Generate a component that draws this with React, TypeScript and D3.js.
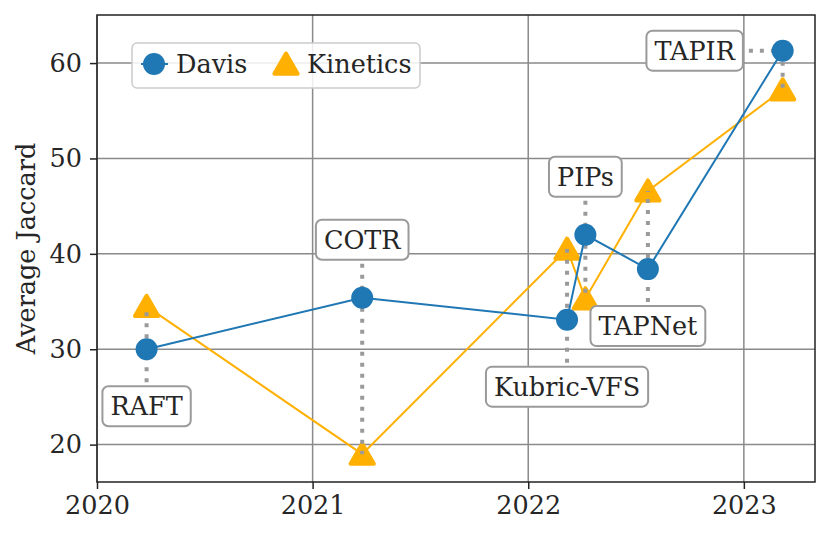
import { useEffect, useRef } from "react"
import * as d3 from "d3"

// Methods, release dates (fractional year) and Average Jaccard on each dataset
const methods = ["RAFT", "COTR", "Kubric-VFS", "PIPs", "TAPNet", "TAPIR"]
const years = [2020.23, 2021.23, 2022.18, 2022.265, 2022.555, 2023.18]
const davis = [30.0, 35.4, 33.1, 42.0, 38.4, 61.3]
const kinetics = [34.5, 19.0, 40.5, 35.3, 46.6, 57.2]

const xTicks = [2020, 2021, 2022, 2023]
const yTicks = [20, 30, 40, 50, 60]

// where each label sits relative to its Davis point (px)
const labelOffset = [
  [0, 57],
  [0, -58],
  [0, 67],
  [0, -58],
  [0, 57],
  [-88, 0],
]

const BLUE = "#1f77b4"
const ORANGE = "#ffb000"
const FONT = "DejaVu Serif"
const FS = "25.5px"
const TEXT = "#262626"

export default function App() {
  const svgRef = useRef<SVGSVGElement>(null)
  const width = 831
  const height = 538

  useEffect(() => {
    if (!svgRef.current) return
    const svg = d3.select(svgRef.current)
    svg.selectAll("*").remove()

    const left = 97
    const right = 815
    const top = 15
    const bottom = 482

    const x = d3.scaleLinear().domain([2020, 2023.33]).range([left, right])
    const y = d3.scaleLinear().domain([16.08, 65.04]).range([bottom, top])

    const g = svg.append("g")

    // grid
    g.selectAll(".vgrid")
      .data(xTicks)
      .enter()
      .append("line")
      .attr("x1", (d) => x(d))
      .attr("x2", (d) => x(d))
      .attr("y1", top)
      .attr("y2", bottom)
      .attr("stroke", "#8a8a8a")
      .attr("stroke-width", 1.5)
    g.selectAll(".hgrid")
      .data(yTicks)
      .enter()
      .append("line")
      .attr("x1", left)
      .attr("x2", right)
      .attr("y1", (d) => y(d))
      .attr("y2", (d) => y(d))
      .attr("stroke", "#8a8a8a")
      .attr("stroke-width", 1.5)

    // axes
    const xAxis = g
      .append("g")
      .attr("transform", `translate(0,${bottom})`)
      .call(d3.axisBottom(x).tickValues(xTicks).tickFormat(d3.format("d")).tickSize(7).tickPadding(7))
    const yAxis = g
      .append("g")
      .attr("transform", `translate(${left},0)`)
      .call(d3.axisLeft(y).tickValues(yTicks).tickSize(7).tickPadding(8))
    ;[xAxis, yAxis].forEach((a) => {
      a.select(".domain").remove()
      a.selectAll(".tick line").attr("stroke", "#222").attr("stroke-width", 1.5)
      a.selectAll("text").attr("fill", TEXT).style("font-family", FONT).style("font-size", FS)
    })

    // frame
    g.append("rect")
      .attr("x", left)
      .attr("y", top)
      .attr("width", right - left)
      .attr("height", bottom - top)
      .attr("fill", "none")
      .attr("stroke", "#222")
      .attr("stroke-width", 1.5)

    g.append("text")
      .attr("transform", `translate(35,${(top + bottom) / 2}) rotate(-90)`)
      .attr("text-anchor", "middle")
      .attr("fill", TEXT)
      .style("font-family", FONT)
      .style("font-size", FS)
      .text("Average Jaccard")

    const idx = d3.range(methods.length)
    const tri = d3.symbol().type(d3.symbolTriangle).size(235)

    // Kinetics series
    const line = d3.line<number>().x((i) => x(years[i]))
    g.append("path")
      .datum(idx)
      .attr("fill", "none")
      .attr("stroke", ORANGE)
      .attr("stroke-width", 2)
      .attr("d", line.y((i) => y(kinetics[i])))
    g.selectAll(".kin")
      .data(idx)
      .enter()
      .append("path")
      .attr("transform", (i) => `translate(${x(years[i])},${y(kinetics[i]) + 3})`)
      .attr("d", tri)
      .attr("fill", ORANGE)
      .attr("stroke", ORANGE)
      .attr("stroke-width", 4)
      .attr("stroke-linejoin", "round")

    // dotted connectors
    const dot = (x1: number, y1: number, x2: number, y2: number) =>
      g.append("line")
        .attr("x1", x1)
        .attr("y1", y1)
        .attr("x2", x2)
        .attr("y2", y2)
        .attr("stroke", "#9a9a9a")
        .attr("stroke-width", 4)
        .attr("stroke-dasharray", "4 7")

    const labelLayer = svg.append("g")
    idx.forEach((i) => {
      const px = x(years[i])
      const pd = y(davis[i])
      const pk = y(kinetics[i])
      const [dx, dy] = labelOffset[i]
      const lx = px + dx
      const ly = pd + dy

      const t = labelLayer
        .append("text")
        .attr("x", lx)
        .attr("y", ly)
        .attr("text-anchor", "middle")
        .attr("dominant-baseline", "central")
        .attr("fill", TEXT)
        .style("font-family", FONT)
        .style("font-size", FS)
        .text(methods[i])
      const w = (t.node() as SVGTextElement).getComputedTextLength() + 16
      const h = 40
      labelLayer
        .insert("rect", "text")
        .attr("x", lx - w / 2)
        .attr("y", ly - h / 2)
        .attr("width", w)
        .attr("height", h)
        .attr("rx", 6)
        .attr("fill", "white")
        .attr("stroke", "#9a9a9a")
        .attr("stroke-width", 2)

      if (dx !== 0) {
        dot(lx + w / 2 + 6, ly, px, pd)
        dot(px, pd, px, pk)
      } else if (dy < 0) {
        dot(px, ly + h / 2 + 4, px, Math.max(pd, pk))
      } else {
        dot(px, ly - h / 2 - 4, px, Math.min(pd, pk))
      }
    })

    // Davis series
    g.append("path")
      .datum(idx)
      .attr("fill", "none")
      .attr("stroke", BLUE)
      .attr("stroke-width", 2)
      .attr("d", d3.line<number>().x((i) => x(years[i])).y((i) => y(davis[i])))
    g.selectAll(".dav")
      .data(idx)
      .enter()
      .append("circle")
      .attr("cx", (i) => x(years[i]))
      .attr("cy", (i) => y(davis[i]))
      .attr("r", 11)
      .attr("fill", BLUE)

    // legend
    const lg = svg.append("g")
    lg.append("rect")
      .attr("x", 132)
      .attr("y", 43)
      .attr("width", 288)
      .attr("height", 45)
      .attr("rx", 5)
      .attr("fill", "white")
      .attr("fill-opacity", 0.85)
      .attr("stroke", "#cccccc")
      .attr("stroke-width", 1.5)
    lg.append("line")
      .attr("x1", 141)
      .attr("x2", 168)
      .attr("y1", 64)
      .attr("y2", 64)
      .attr("stroke", BLUE)
      .attr("stroke-width", 2)
    lg.append("circle").attr("cx", 154).attr("cy", 64).attr("r", 11).attr("fill", BLUE)
    lg.append("path")
      .attr("transform", "translate(286,67)")
      .attr("d", tri)
      .attr("fill", ORANGE)
      .attr("stroke", ORANGE)
      .attr("stroke-width", 4)
      .attr("stroke-linejoin", "round")
    ;[
      ["Davis", 176],
      ["Kinetics", 307],
    ].forEach(([name, lx]) => {
      lg.append("text")
        .attr("x", lx as number)
        .attr("y", 64)
        .attr("dominant-baseline", "central")
        .attr("fill", TEXT)
        .style("font-family", FONT)
        .style("font-size", FS)
        .text(name as string)
    })
  }, [])

  return (
    <svg
      ref={svgRef}
      width={width}
      height={height}
      style={{ position: "absolute", left: 0, top: 0, background: "white" }}
    />
  )
}
